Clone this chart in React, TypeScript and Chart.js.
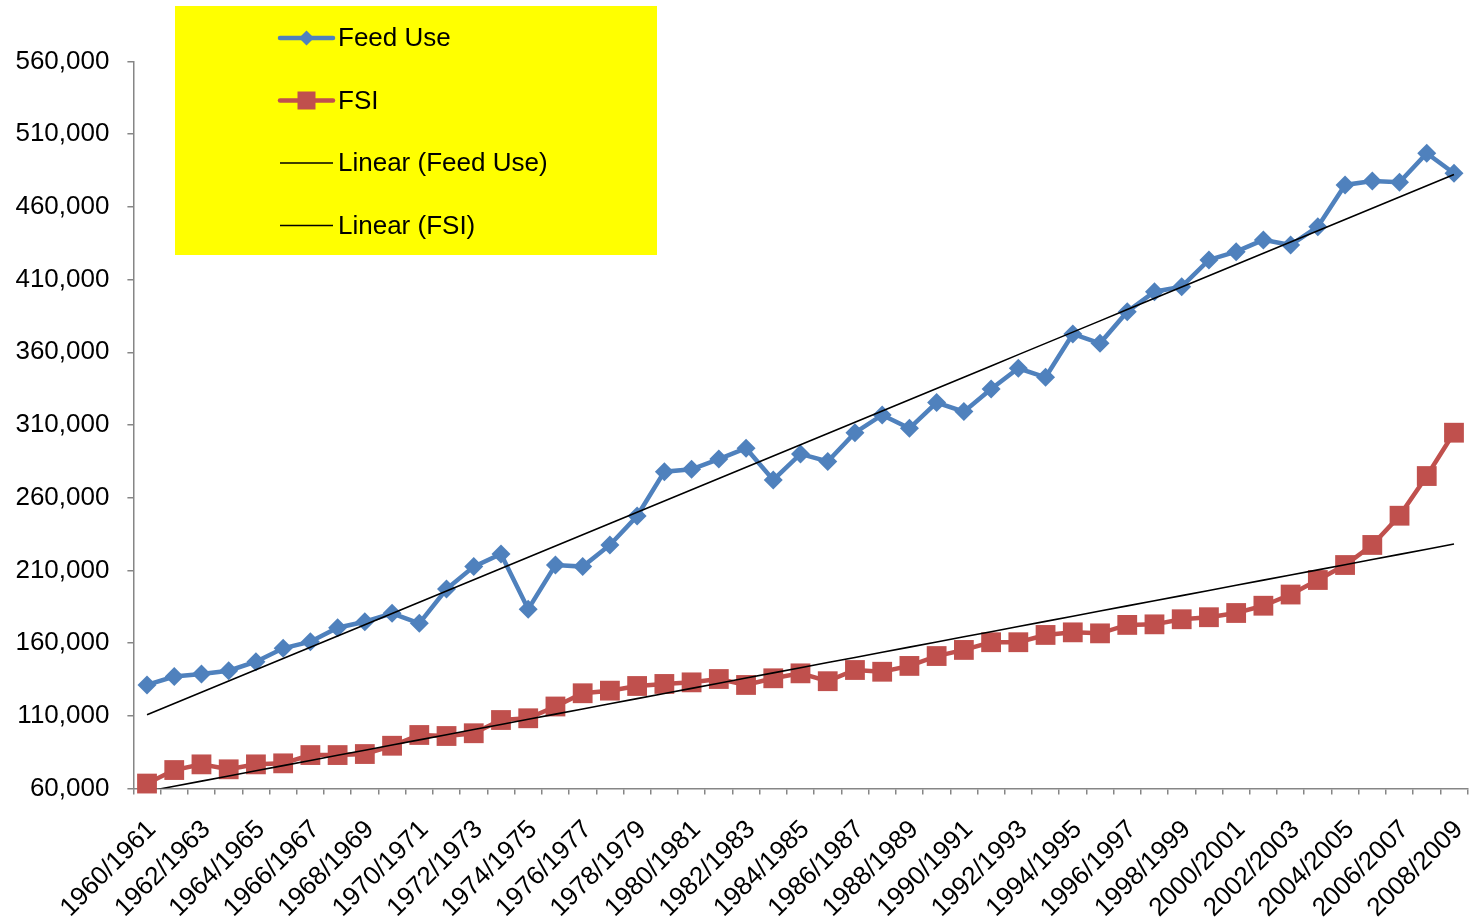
import React, { useEffect, useRef } from 'react';
import { Chart, registerables } from 'chart.js';

Chart.register(...registerables);

const seasons: string[] = [
  '1960/1961', '1961/1962', '1962/1963', '1963/1964', '1964/1965', '1965/1966', '1966/1967',
  '1967/1968', '1968/1969', '1969/1970', '1970/1971', '1971/1972', '1972/1973', '1973/1974',
  '1974/1975', '1975/1976', '1976/1977', '1977/1978', '1978/1979', '1979/1980', '1980/1981',
  '1981/1982', '1982/1983', '1983/1984', '1984/1985', '1985/1986', '1986/1987', '1987/1988',
  '1988/1989', '1989/1990', '1990/1991', '1991/1992', '1992/1993', '1993/1994', '1994/1995',
  '1995/1996', '1996/1997', '1997/1998', '1998/1999', '1999/2000', '2000/2001', '2001/2002',
  '2002/2003', '2003/2004', '2004/2005', '2005/2006', '2006/2007', '2007/2008', '2008/2009',
];

const feedUse: number[] = [
  131200, 137000, 138800, 141000, 147200, 156400, 161000, 170600, 174700, 180500,
  173600, 197200, 212600, 221300, 183300, 213700, 212600, 227500, 247400, 277900,
  279500, 286600, 294000, 272200, 290100, 284900, 304700, 316900, 307700, 325400,
  319200, 334800, 349000, 342800, 372600, 366200, 387900, 401700, 405100, 423500,
  429200, 437300, 433800, 446400, 475100, 477800, 476900, 496900, 483100,
];

const fsi: number[] = [
  63400, 72700, 76600, 73200, 76600, 77300, 83000, 83000, 83700, 89400,
  96800, 96100, 98000, 107100, 108300, 116400, 125500, 127300, 130500, 131900,
  133000, 135300, 131200, 135800, 139200, 133800, 141500, 140300, 144300, 151100,
  155300, 160600, 160600, 165600, 167400, 166700, 172500, 172900, 176400, 177800,
  180700, 185700, 193400, 203400, 213700, 227500, 247600, 274900, 304700,
];

const yMin = 60000;
const yMax = 560000;
const yStep = 50000;

const seriesNames = ['Feed Use', 'FSI', 'Linear (Feed Use)', 'Linear (FSI)'];

// Least-squares trend line over the category index (as a spreadsheet "Linear" trendline does)
function linearTrend(values: number[]): number[] {
  const n = values.length;
  let sx = 0, sy = 0, sxx = 0, sxy = 0;
  values.forEach((v, i) => { sx += i; sy += v; sxx += i * i; sxy += i * v; });
  const slope = (n * sxy - sx * sy) / (n * sxx - sx * sx);
  const intercept = (sy - slope * sx) / n;
  return values.map((_, i) => intercept + slope * i);
}

const FONT = "'Liberation Sans', Arial, Helvetica, sans-serif";

const legendPlugin = {
  id: 'boxLegend',
  afterDraw(chart: any) {
    const ctx = chart.ctx;
    ctx.save();
    ctx.fillStyle = '#FFFF00';
    ctx.fillRect(175, 6, 482, 249);
    const datasets = chart.data.datasets;
    const x0 = 280, x1 = 333, tx = 338;
    datasets.forEach((ds: any, i: number) => {
      const cy = 38 + i * 62.5;
      ctx.strokeStyle = ds.borderColor;
      ctx.lineWidth = ds.pointRadius > 0 ? 4.5 : 1.5;
      ctx.lineCap = ds.pointRadius > 0 ? 'round' : 'butt';
      ctx.beginPath();
      ctx.moveTo(x0, cy);
      ctx.lineTo(x1, cy);
      ctx.stroke();
      if (ds.pointRadius > 0) {
        ctx.fillStyle = ds.backgroundColor;
        const mx = (x0 + x1) / 2;
        ctx.beginPath();
        if (ds.pointStyle === 'rectRot') {
          const r = 7.5;
          ctx.moveTo(mx - r, cy);
          ctx.lineTo(mx, cy - r);
          ctx.lineTo(mx + r, cy);
          ctx.lineTo(mx, cy + r);
        } else {
          const h = 9;
          ctx.rect(mx - h, cy - h, 2 * h, 2 * h);
        }
        ctx.closePath();
        ctx.fill();
      }
      ctx.fillStyle = '#000000';
      ctx.font = `26px ${FONT}`;
      ctx.textAlign = 'left';
      ctx.textBaseline = 'middle';
      ctx.fillText(ds.label, tx, cy + 1);
    });
    ctx.restore();
  },
};

export default function App() {
  const canvasRef = useRef<HTMLCanvasElement | null>(null);

  useEffect(() => {
    if (!canvasRef.current) return;
    const chart = new Chart(canvasRef.current, {
      type: 'line',
      data: {
        labels: seasons,
        datasets: [
          {
            label: seriesNames[0],
            data: feedUse,
            borderColor: '#4F81BD',
            backgroundColor: '#4F81BD',
            borderWidth: 4.5,
            pointStyle: 'rectRot',
            pointRadius: 9.5,
            pointBorderWidth: 0,
            tension: 0,
            clip: false,
            order: 3,
          },
          {
            label: seriesNames[1],
            data: fsi,
            borderColor: '#C0504D',
            backgroundColor: '#C0504D',
            borderWidth: 4.5,
            pointStyle: 'rect',
            pointRadius: 14,
            pointBorderWidth: 0,
            tension: 0,
            clip: false,
            order: 2,
          },
          {
            label: seriesNames[2],
            data: linearTrend(feedUse),
            borderColor: '#000000',
            backgroundColor: '#000000',
            borderWidth: 1.6,
            pointRadius: 0,
            tension: 0,
            clip: 0,
            order: 1,
          },
          {
            label: seriesNames[3],
            data: linearTrend(fsi),
            borderColor: '#000000',
            backgroundColor: '#000000',
            borderWidth: 1.6,
            pointRadius: 0,
            tension: 0,
            clip: 0,
            order: 0,
          },
        ],
      } as any,
      options: {
        responsive: false,
        animation: false,
        layout: { autoPadding: false, padding: { left: 0, right: 6.4, top: 61.5, bottom: 0 } },
        plugins: {
          legend: { display: false },
          tooltip: { enabled: false },
        },
        scales: {
          x: {
            type: 'category',
            offset: true,
            grid: {
              display: true,
              offset: true,
              drawOnChartArea: false,
              drawTicks: true,
              tickLength: 6,
              color: '#868686',
              lineWidth: 1.5,
            },
            border: { display: true, color: '#868686', width: 1.5 },
            ticks: {
              autoSkip: false,
              maxRotation: 45,
              minRotation: 45,
              padding: 20,
              labelOffset: 5,
              color: '#000000',
              font: { family: FONT, size: 26 },
              callback: (_v: any, idx: number) => (idx % 2 === 0 ? seasons[idx] : ''),
            },
            afterFit: (scale: any) => {
              scale.height = 134.5;
              scale.paddingLeft = 0;
              scale.paddingRight = 0;
            },
          },
          y: {
            min: yMin,
            max: yMax,
            grid: {
              display: true,
              drawOnChartArea: false,
              drawTicks: true,
              tickLength: 6,
              color: '#868686',
              lineWidth: 1.5,
            },
            border: { display: true, color: '#868686', width: 1.5 },
            ticks: {
              stepSize: yStep,
              padding: 18,
              color: '#000000',
              font: { family: FONT, size: 26 },
              callback: (v: any) => Number(v).toLocaleString('en-US'),
            },
            afterFit: (scale: any) => {
              scale.width = 133.4;
              scale.paddingTop = 0;
              scale.paddingBottom = 0;
            },
          },
        },
      } as any,
      plugins: [legendPlugin],
    });
    return () => chart.destroy();
  }, []);

  return (
    <div style={{ position: 'absolute', left: 0, top: 0, width: 1474, height: 923, background: '#ffffff' }}>
      <canvas ref={canvasRef} width={1474} height={923} style={{ display: 'block' }} />
    </div>
  );
}
